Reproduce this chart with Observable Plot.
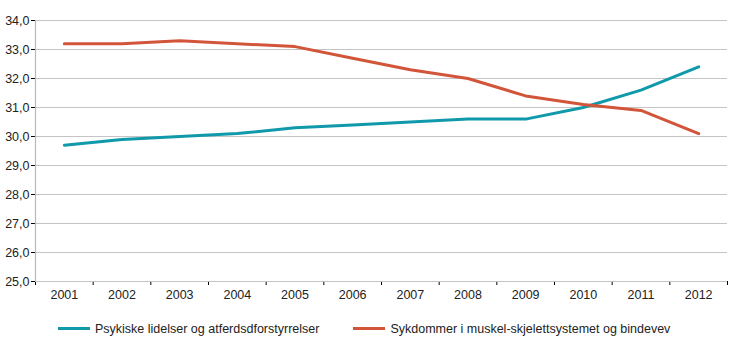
<!DOCTYPE html>
<html><head><meta charset="utf-8">
<script src="https://cdn.jsdelivr.net/npm/d3@7"></script>
<script src="https://cdn.jsdelivr.net/npm/@observablehq/plot@0.6"></script>
<style>
body{margin:0;background:#fff;font-family:"Liberation Sans",Arial,sans-serif;}
#chart svg{display:block;}
#chart [aria-label^="y-axis"] line, #chart [aria-label^="x-axis"] line{stroke:#b8b8b8;}
#chart [aria-label^="y-axis"] text, #chart [aria-label^="x-axis"] text{fill:#222;}
.legend{display:flex;align-items:center;height:37px;padding-left:58px;font-size:12.5px;color:#222;}
.item{display:flex;align-items:center;margin-right:34px;}
.sw{width:32px;height:3px;margin-right:5px;}
</style></head>
<body>
<div id="chart"></div>
<script>
const years = [2001,2002,2003,2004,2005,2006,2007,2008,2009,2010,2011,2012];
const psykiske = [29.7,29.9,30.0,30.1,30.3,30.4,30.5,30.6,30.6,31.0,31.6,32.4];
const muskel = [33.2,33.2,33.3,33.2,33.1,32.7,32.3,32.0,31.4,31.1,30.9,30.1];
const seriesNames = ["Psykiske lidelser og atferdsdforstyrrelser","Sykdommer i muskel-skjelettsystemet og bindevev"];
const colors = ["#0f99aa","#d2553a"];
const yTicks = [25,26,27,28,29,30,31,32,33,34];

const data = [];
years.forEach((y,i)=>{
  data.push({year:y, value:psykiske[i], series:seriesNames[0]});
  data.push({year:y, value:muskel[i], series:seriesNames[1]});
});
const xDomain = [years[0]-0.5, years[years.length-1]+0.5];
const boundaries = years.map(y=>y-0.5).concat([years[years.length-1]+0.5]);
const fmt = d => d.toFixed(1).replace(".", ",");

const chart = Plot.plot({
  width: 730, height: 310,
  marginLeft: 35, marginRight: 3, marginTop: 20, marginBottom: 29,
  style: {fontFamily: '"Liberation Sans",Arial,sans-serif', fontSize: "12.5px", background: "#fff"},
  x: {domain: xDomain, ticks: boundaries, tickFormat: () => "", tickSize: 4, label: null},
  y: {domain: [25,34], ticks: yTicks, tickFormat: fmt, tickSize: 4, tickPadding: 2, label: null},
  color: {domain: seriesNames, range: colors},
  marks: [
    Plot.ruleY(yTicks, {stroke: "#c4c4c4", strokeWidth: 1.2}),
    Plot.ruleX([xDomain[0]], {stroke: "#b8b8b8", strokeWidth: 1.2}),
    Plot.text(years, {x: d => d, frameAnchor: "bottom", dy: 17, text: d => String(d), fill: "#222"}),
    Plot.line(data, {x: "year", y: "value", z: "series", stroke: "series", strokeWidth: 3})
  ]
});
document.getElementById("chart").appendChild(chart);

const legend = document.createElement("div");
legend.className = "legend";
seriesNames.forEach((n,i)=>{
  const it = document.createElement("div"); it.className = "item";
  const sw = document.createElement("div"); sw.className = "sw"; sw.style.background = colors[i];
  const t = document.createElement("span"); t.textContent = n;
  it.appendChild(sw); it.appendChild(t); legend.appendChild(it);
});
document.getElementById("chart").appendChild(legend);
</script>
</body></html>
